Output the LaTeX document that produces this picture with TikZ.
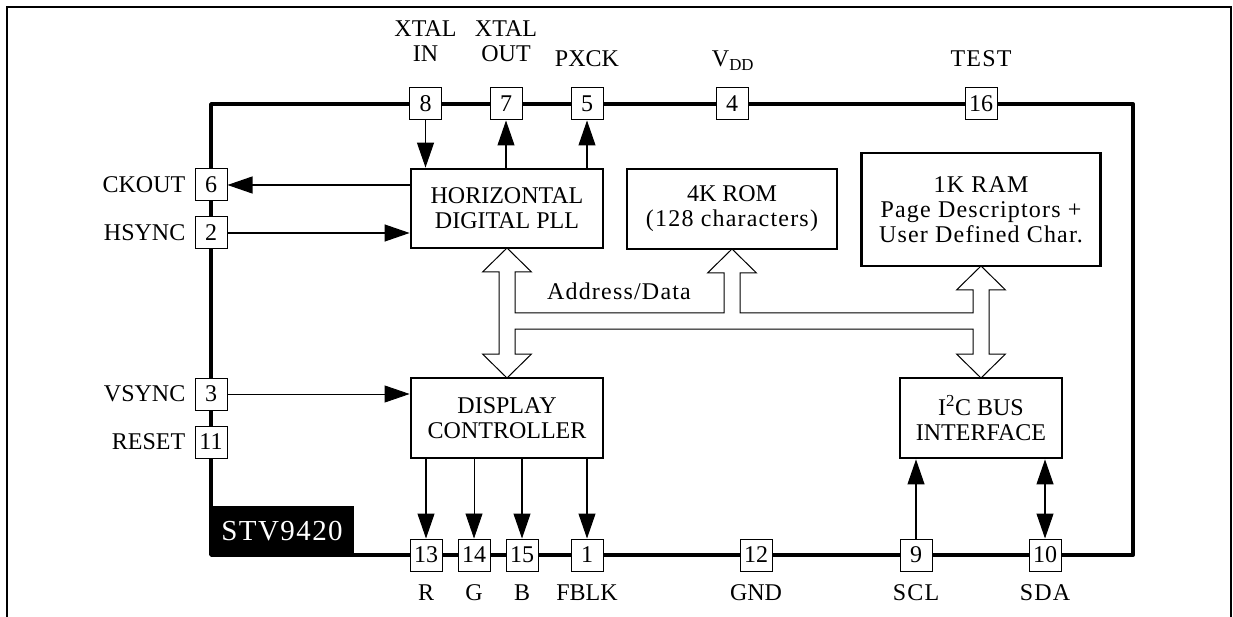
\documentclass[tikz,border=0pt]{standalone}
\usepackage{fontspec}
\setmainfont{Liberation Serif}
\newfontfamily\spc[LetterSpace=5]{Liberation Serif}
\usetikzlibrary{arrows.meta,calc}
\newcommand\mainsize{\fontsize{24}{25}\selectfont}
\begin{document}
\begin{tikzpicture}[x=1pt,y=-1pt,
  every node/.style={font=\mainsize},
  pinbox/.style={draw, line width=1pt, fill=white, minimum width=32pt, minimum height=32pt, inner sep=0pt},
  block/.style={draw, line width=2.8pt, fill=white, inner sep=0pt, align=center},
  sig/.style={line width=1.1pt, -{Triangle[length=25pt,width=17pt]}},
  thinsig/.style={sig, line width=0.8pt},
  lbl/.style={inner sep=0pt, anchor=base},
  sidelbl/.style={inner sep=0pt, anchor=east},
  spaced/.style={font=\mainsize\spc},
  bus/.style={draw, fill=white, line width=1pt, line join=miter},
]
\useasboundingbox (0,0) rectangle (1233,617);
% outer frame
\draw[line width=1.3pt] (7,617) -- (7,7) -- (1231,7) -- (1231,617);
% chip outline
\draw[line width=3.8pt, line join=round] (211,104) rectangle (1133,555);
% part label
\fill (211,506) rectangle (354,555);
\node[lbl, text=white, font=\fontsize{29}{30}\selectfont\spc] (stv) at (282,540) {STV9420};

% pins
\node[pinbox] (p8) at (425.5,104) {8};
\node[pinbox] (p7) at (506,104) {7};
\node[pinbox] (p5) at (587,104) {5};
\node[pinbox] (p4) at (732,104) {4};
\node[pinbox] (p16) at (981,104) {16};
\node[pinbox] (p6) at (211,185) {6};
\node[pinbox] (p2) at (211,233) {2};
\node[pinbox] (p3) at (211,394) {3};
\node[pinbox] (p11) at (211,442) {11};
\node[pinbox] (p13) at (426,555) {13};
\node[pinbox] (p14) at (474,555) {14};
\node[pinbox] (p15) at (522,555) {15};
\node[pinbox] (p1) at (587,555) {1};
\node[pinbox] (p12) at (756,555) {12};
\node[pinbox] (p9) at (916,555) {9};
\node[pinbox] (p10) at (1045,555) {10};

% pin labels, top
\node[lbl] (lxi1) at (425.5,37) {XTAL};
\node[lbl] (lxi2) at (425.5,62) {IN};
\node[lbl] (lxo1) at (506,37) {XTAL};
\node[lbl] (lxo2) at (506,62) {OUT};
\node[lbl] (lpx) at (587,67) {PXCK};
\node[lbl] (lvdd) at (733,67) {V\textsubscript{DD}};
\node[lbl, spaced] (ltest) at (981,67) {TEST};
% pin labels, left
\node[sidelbl] (lck) at ($(p6.west)+(-9,0)$) {CKOUT};
\node[sidelbl] (lhs) at ($(p2.west)+(-9,0)$) {HSYNC};
\node[sidelbl] (lvs) at ($(p3.west)+(-9,0)$) {VSYNC};
\node[sidelbl] (lrs) at ($(p11.west)+(-9,0)$) {RESET};
% pin labels, bottom
\node[lbl] (lr) at ($(p13)+(0,45)$) {R};
\node[lbl] (lg) at ($(p14)+(0,45)$) {G};
\node[lbl] (lb) at ($(p15)+(0,45)$) {B};
\node[lbl] (lfb) at ($(p1)+(0,45)$) {FBLK};
\node[lbl] (lgnd) at ($(p12)+(0,45)$) {GND};
\node[lbl, spaced] (lscl) at ($(p9)+(0,45)$) {SCL};
\node[lbl, spaced] (lsda) at ($(p10)+(0,45)$) {SDA};

% blocks
\node[block, minimum width=192pt, minimum height=79pt] (pll) at (507,208.5) {HORIZONTAL\\DIGITAL PLL};
\node[block, minimum width=210pt, minimum height=80pt] (rom) at (732,209) {4K ROM\\{\spc (128 characters)}};
\node[block, spaced, minimum width=239pt, minimum height=113pt] (ram) at (981,209.5) {1K RAM\\Page Descriptors +\\User Defined Char.};
\node[block, minimum width=192pt, minimum height=80pt] (disp) at (507,418) {DISPLAY\\CONTROLLER};
\node[block, minimum width=162pt, minimum height=80pt] (i2c) at (981,418) {I\textsuperscript{2}C BUS\\INTERFACE};

% internal bus
\draw[bus] (507,248) -- (531.5,272) -- (515,272) -- (515,313) -- (724,313) -- (724,273)
  -- (707.5,273) -- (732,249) -- (756.5,273) -- (740,273) -- (740,313) -- (973,313)
  -- (973,290) -- (956.5,290) -- (981,266) -- (1005.5,290) -- (989,290) -- (989,354)
  -- (1005.5,354) -- (981,378) -- (956.5,354) -- (973,354) -- (973,329) -- (515,329)
  -- (515,354) -- (531.5,354) -- (507,378) -- (482.5,354) -- (499,354) -- (499,272)
  -- (482.5,272) -- cycle;
\node[lbl, spaced] (addr) at (619,300) {Address/Data};

% signals
\draw[sig] (p8.south) -- (p8.south |- pll.north);
\draw[sig] (p7.south |- pll.north) -- (p7.south);
\draw[sig] (p5.south |- pll.north) -- (p5.south);
\draw[sig] (p6.east -| pll.west) -- (p6.east);
\draw[sig] (p2.east) -- (p2.east -| pll.west);
\draw[thinsig] (p3.east) -- (p3.east -| disp.west);
\draw[sig] (p13.north |- disp.south) -- (p13.north);
\draw[thinsig] (p14.north |- disp.south) -- (p14.north);
\draw[sig] (p15.north |- disp.south) -- (p15.north);
\draw[sig] (p1.north |- disp.south) -- (p1.north);
\draw[sig] (p9.north) -- (p9.north |- i2c.south);
\draw[sig, {Triangle[length=25pt,width=17pt]}-{Triangle[length=25pt,width=17pt]}] (p10.north) -- (p10.north |- i2c.south);
\end{tikzpicture}
\end{document}
